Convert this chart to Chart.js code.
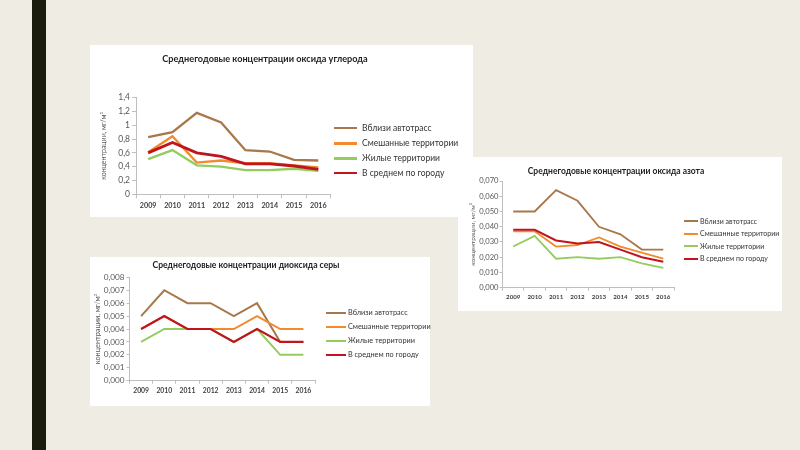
<!DOCTYPE html>
<html>
<head>
<meta charset="utf-8">
<script src="https://cdn.jsdelivr.net/npm/chart.js@4.4.0/dist/chart.umd.min.js"></script>
<style>
  body { margin: 0; width: 800px; height: 450px; background: #efece4; position: relative; overflow: hidden; font-family: Lato, "Noto Sans", sans-serif; }
  .bar { position: absolute; left: 32px; top: 0; width: 14px; height: 450px; background: #1b1b0d; }
  .panel { position: absolute; background: #fff; }
  .panel canvas { position: absolute; left: 0; top: 0; }
  .title { position: absolute; font-weight: bold; color: #222; white-space: nowrap; transform: translate(-50%, -50%); }
  .leg-line { position: absolute; }
  .leg-text { position: absolute; white-space: nowrap; color: #333; }
</style>
</head>
<body>
<div class="bar"></div>

<div class="panel" style="left:90px; top:45px; width:383px; height:172px;">
  <canvas id="co" width="383" height="172"></canvas>
</div>
<div class="panel" style="left:90px; top:257px; width:340px; height:149px;">
  <canvas id="so2" width="340" height="149"></canvas>
</div>
<div class="panel" style="left:458px; top:157px; width:324px; height:154px;">
  <canvas id="no2" width="324" height="154"></canvas>
</div>

<div class="title" style="left:265px; top:58px; font-size:9.15px;">Среднегодовые концентрации оксида углерода</div>
<div class="title" style="left:246px; top:265px; font-size:8.6px;">Среднегодовые концентрации диоксида серы</div>
<div class="title" style="left:616px; top:171px; font-size:8.5px;">Среднегодовые концентрации оксида азота</div>

<script>
const years = ['2009', '2010', '2011', '2012', '2013', '2014', '2015', '2016'];
const seriesNames = ['Вблизи автотрасс', 'Смешанные территории', 'Жилые территории', 'В среднем по городу'];
const seriesColors = ['#a8784a', '#f28a2e', '#94cc5e', '#c0141e'];

// оксид углерода, мг/м3
const coRoads = [0.83, 0.90, 1.18, 1.04, 0.64, 0.62, 0.50, 0.49];
const coMixed = [0.61, 0.84, 0.46, 0.49, 0.45, 0.45, 0.42, 0.39];
const coHomes = [0.51, 0.64, 0.42, 0.40, 0.35, 0.35, 0.37, 0.34];
const coCity  = [0.60, 0.75, 0.60, 0.55, 0.44, 0.44, 0.41, 0.36];

// диоксид серы, мг/м3
const so2Roads = [0.005, 0.007, 0.006, 0.006, 0.005, 0.006, 0.003, 0.003];
const so2Mixed = [0.004, 0.005, 0.004, 0.004, 0.004, 0.005, 0.004, 0.004];
const so2Homes = [0.003, 0.004, 0.004, 0.004, 0.003, 0.004, 0.002, 0.002];
const so2City  = [0.004, 0.005, 0.004, 0.004, 0.003, 0.004, 0.003, 0.003];

// оксид азота, мг/м3
const no2Roads = [0.050, 0.050, 0.064, 0.057, 0.040, 0.035, 0.025, 0.025];
const no2Mixed = [0.037, 0.037, 0.027, 0.028, 0.033, 0.027, 0.023, 0.019];
const no2Homes = [0.027, 0.034, 0.019, 0.020, 0.019, 0.020, 0.016, 0.013];
const no2City  = [0.038, 0.038, 0.031, 0.029, 0.030, 0.025, 0.020, 0.017];

const axisColor = '#bfbfbf';
Chart.defaults.font.family = 'Lato, "Noto Sans", sans-serif';

function comma(v, digits) {
  return v.toFixed(digits).replace('.', ',');
}

function makeChart(id, o) {
  const canvas = document.getElementById(id);
  const W = canvas.width, H = canvas.height;
  return new Chart(canvas, {
    type: 'line',
    data: {
      labels: years,
      datasets: o.series.map((values, i) => ({
        label: seriesNames[i],
        data: values,
        borderColor: seriesColors[i],
        backgroundColor: seriesColors[i],
        borderWidth: o.lineWidth[i],
        pointRadius: 0,
        tension: 0,
        order: 4 - i
      }))
    },
    options: {
      responsive: false,
      animation: false,
      events: [],
      layout: { padding: { left: 0, top: o.area.top, right: W - o.area.right, bottom: 0 } },
      plugins: { legend: { display: false }, title: { display: false }, tooltip: { enabled: false } },
      scales: {
        x: {
          offset: true,
          grid: { drawOnChartArea: false, drawTicks: true, tickLength: o.tick, color: axisColor, offset: true },
          border: { color: axisColor },
          ticks: { autoSkip: false, maxRotation: 0, padding: 3, color: '#404040', font: { size: o.xFont, weight: 'bold' } },
          afterFit: s => { s.height = H - o.area.bottom; }
        },
        y: {
          min: 0,
          max: o.max,
          ticks: { stepSize: o.step, padding: o.yPad, color: '#595959', font: { size: o.yFont }, callback: v => o.fmt(v) },
          grid: { drawOnChartArea: false, drawTicks: true, tickLength: o.tick, color: axisColor },
          border: { color: axisColor },
          title: { display: true, text: 'концентрации, мг/м³', color: '#595959', font: { size: o.titleFont }, padding: { top: o.titlePad, bottom: 0 } },
          afterFit: s => { s.width = o.area.left; }
        }
      }
    }
  });
}

function makeLegend(l) {
  seriesNames.forEach((name, i) => {
    const y = l.rows[i];
    const line = document.createElement('div');
    line.className = 'leg-line';
    line.style.cssText = `left:${l.lineX}px; top:${y - l.lineH / 2}px; width:${l.lineW}px; height:${l.lineH}px; background:${seriesColors[i]};`;
    document.body.appendChild(line);
    const txt = document.createElement('div');
    txt.className = 'leg-text';
    txt.textContent = name;
    txt.style.cssText = `left:${l.textX}px; top:${y - l.font * 0.6}px; font-size:${l.font}px; line-height:${l.font * 1.2}px;`;
    document.body.appendChild(txt);
  });
}

makeChart('co', {
  series: [coRoads, coMixed, coHomes, coCity],
  lineWidth: [2.3, 2.3, 2.3, 2.8],
  area: { left: 46, right: 240.5, top: 52.7, bottom: 149.3 },
  max: 1.4, step: 0.2, tick: 4, yPad: 2,
  xFont: 7.2, yFont: 8.5, titleFont: 7, titlePad: 10,
  fmt: v => String(+v.toFixed(1)).replace('.', ',')
});

makeChart('so2', {
  series: [so2Roads, so2Mixed, so2Homes, so2City],
  lineWidth: [2, 2, 2, 2.2],
  area: { left: 39.5, right: 225, top: 20.3, bottom: 123.7 },
  max: 0.008, step: 0.001, tick: 3, yPad: 2,
  xFont: 6.8, yFont: 8.2, titleFont: 7.3, titlePad: 3,
  fmt: v => comma(v, 3)
});

makeChart('no2', {
  series: [no2Roads, no2Mixed, no2Homes, no2City],
  lineWidth: [1.8, 1.8, 1.8, 2],
  area: { left: 44.5, right: 216, top: 24, bottom: 130.7 },
  max: 0.07, step: 0.01, tick: 3, yPad: 1,
  xFont: 6.2, yFont: 7.6, titleFont: 6.5, titlePad: 11,
  fmt: v => comma(v, 3)
});

makeLegend({ lineX: 334, lineW: 23, lineH: 2.5, textX: 362, font: 8.5, rows: [128, 143.5, 158.5, 173] });
makeLegend({ lineX: 326, lineW: 20, lineH: 2, textX: 348, font: 7.3, rows: [313, 327, 341, 355] });
makeLegend({ lineX: 684, lineW: 14, lineH: 2, textX: 700, font: 7, rows: [221, 233.5, 246, 258.5] });
</script>
</body>
</html>
